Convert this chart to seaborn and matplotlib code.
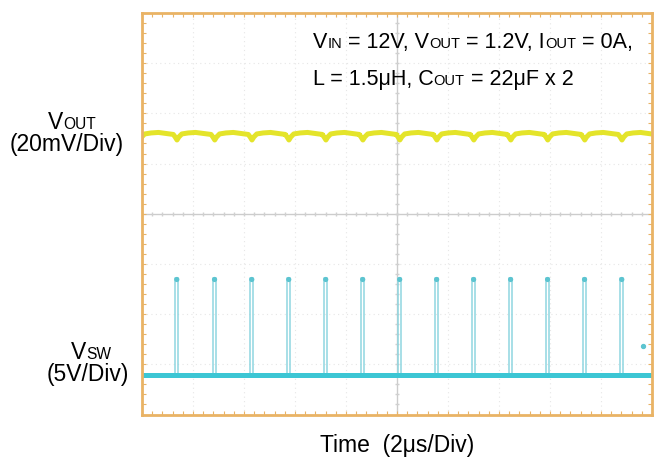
import numpy as np
import pandas as pd
import matplotlib
matplotlib.use("Agg")
import matplotlib.pyplot as plt
from matplotlib.transforms import IdentityTransform
import seaborn as sns

# -----------------------------
# Data (read off the scope shot)
# x in microseconds (2 us/div, 10 div), y in divisions (8 div)
# -----------------------------
PULSE_TIMES_US = [1.30, 2.78, 4.24, 5.69, 7.14, 8.59, 10.04, 11.49,
                  12.94, 14.39, 15.84, 17.29, 18.75]
PERIOD_US = 1.455
PULSE_WIDTH_US = 0.13

VSW_BASE_DIV = 0.79
VSW_TOP_DIV = 2.72
VOUT_LEVEL_DIV = 5.58

# one ripple cycle of VOUT, phase 0 = switching edge
RIPPLE_PHASE = [-0.05, 0.0, 0.05, 0.10, 0.18, 0.35, 0.55, 0.75, 0.95]
RIPPLE_DIV = [0.00, -0.05, -0.11, -0.05, 0.01, 0.03, 0.04, 0.02, 0.00]

TRIG_MARK_US = 19.65
TRIG_MARK_DIV = 1.36

FONT = "Liberation Sans"
TOP_BIG, TOP_SMALL = 15.5, 10.5
SIDE_BIG, SIDE_SMALL = 16.5, 11.2

YELLOW = "#e4e42a"
CYAN = "#3cc6d4"
CYAN_LIGHT = "#8fd6e0"
ORANGE = "#e9b365"

# -----------------------------
# Build traces
# -----------------------------
anchors = [PULSE_TIMES_US[0] - PERIOD_US] + PULSE_TIMES_US + [PULSE_TIMES_US[-1] + PERIOD_US]
vout_t, vout_v = [], []
for a in anchors:
    for ph, dv in zip(RIPPLE_PHASE, RIPPLE_DIV):
        vout_t.append(a + ph * PERIOD_US)
        vout_v.append(VOUT_LEVEL_DIV + dv)
vout = pd.DataFrame({"t": vout_t, "v": vout_v})

rows = []
for k, t in enumerate(PULSE_TIMES_US):
    for x, y in [(t, VSW_BASE_DIV), (t, VSW_TOP_DIV),
                 (t + PULSE_WIDTH_US, VSW_TOP_DIV), (t + PULSE_WIDTH_US, VSW_BASE_DIV)]:
        rows.append({"pulse": k, "t": x, "v": y})
pulses = pd.DataFrame(rows)
tops = pd.DataFrame({"t": [t + PULSE_WIDTH_US / 2 for t in PULSE_TIMES_US],
                     "v": [VSW_TOP_DIV - 0.03] * len(PULSE_TIMES_US)})
base = pd.DataFrame({"t": [0, 20], "v": [VSW_BASE_DIV, VSW_BASE_DIV]})

# -----------------------------
# Figure
# -----------------------------
sns.set_style("white")
fig = plt.figure(figsize=(6.59, 4.61), dpi=100)
ax = fig.add_axes([142 / 659, 1 - 414.5 / 461, 510 / 659, 401.5 / 461])

# grid
for gx in range(2, 20, 2):
    if gx != 10:
        ax.axvline(gx, color="#e6e6e6", lw=0.8, ls=(0, (1, 3)), zorder=0)
for gy in range(1, 8):
    if gy != 4:
        ax.axhline(gy, color="#e6e6e6", lw=0.8, ls=(0, (1, 3)), zorder=0)
ax.axvline(10, color="#cccccc", lw=1.0, zorder=0)
ax.axhline(4, color="#cccccc", lw=1.0, zorder=0)
ax.plot(np.arange(0, 20.01, 0.4), [4] * 51, ls="none", marker="|", ms=3, color="#d0d0d0", zorder=0)
ax.plot([10] * 41, np.arange(0, 8.01, 0.2), ls="none", marker="_", ms=3, color="#d0d0d0", zorder=0)

# traces
sns.lineplot(data=pulses, x="t", y="v", units="pulse", estimator=None, sort=False,
             ax=ax, color=CYAN_LIGHT, lw=1.1, legend=False)
sns.scatterplot(data=tops, x="t", y="v", ax=ax, color="#5cc4d0", s=14, marker="o",
                edgecolor="none", zorder=4)
sns.lineplot(data=base, x="t", y="v", ax=ax, color=CYAN, lw=3.6, legend=False)
sns.lineplot(data=vout, x="t", y="v", estimator=None, sort=False, ax=ax,
             color=YELLOW, lw=3.6, legend=False)
ax.scatter([TRIG_MARK_US], [TRIG_MARK_DIV], color="#5cc4d0", s=8, zorder=4)

ax.set_xlim(0, 20)
ax.set_ylim(0, 8)
ax.set_xlabel("")
ax.set_ylabel("")
ax.set_xticks(np.arange(0, 20.01, 0.4))
ax.set_yticks(np.arange(0, 8.01, 0.2))
ax.tick_params(which="both", direction="in", length=3, width=0.8, color=ORANGE,
               top=True, right=True, bottom=True, left=True,
               labelbottom=False, labelleft=False)
for s in ax.spines.values():
    s.set_color(ORANGE)
    s.set_linewidth(2)

# -----------------------------
# Text with small-caps subscripts
# -----------------------------
renderer = fig.canvas.get_renderer()


def text_width(s, size):
    t1 = fig.text(0, 0, "x" + s + "x", fontsize=size, family=FONT)
    t0 = fig.text(0, 0, "xx", fontsize=size, family=FONT)
    w = t1.get_window_extent(renderer).width - t0.get_window_extent(renderer).width
    t1.remove()
    t0.remove()
    return w


def rich_text(x, y_top, runs, ha="left"):
    y = 461 - y_top
    widths = [text_width(s, sz) for s, sz in runs]
    if ha == "center":
        x -= sum(widths) / 2
    for (s, sz), w in zip(runs, widths):
        lead = len(s) - len(s.lstrip())
        off = text_width(" " * lead, sz) if lead else 0
        fig.text(x + off, y, s.strip(), fontsize=sz, family=FONT, va="baseline",
                 ha="left", color="black", transform=IdentityTransform())
        x += w


B, S = TOP_BIG, TOP_SMALL
rich_text(313, 48, [("V", B), ("IN", S), (" = 12V, V", B), ("OUT", S),
                    (" = 1.2V, I", B), ("OUT", S), (" = 0A,", B)])
rich_text(313, 85, [("L = 1.5μH, C", B), ("OUT", S), (" = 22μF x 2", B)])

B, S = SIDE_BIG, SIDE_SMALL
rich_text(72, 129, [("V", B), ("OUT", S)], ha="center")
rich_text(67, 151, [("(20mV/Div)", B)], ha="center")
rich_text(91, 359, [("V", B), ("SW", S)], ha="center")
rich_text(88, 381, [("(5V/Div)", B)], ha="center")

rich_text(320, 452, [("Time  (2μs/Div)", B)])

fig.savefig("out.png", dpi=100)
plt.close(fig)
